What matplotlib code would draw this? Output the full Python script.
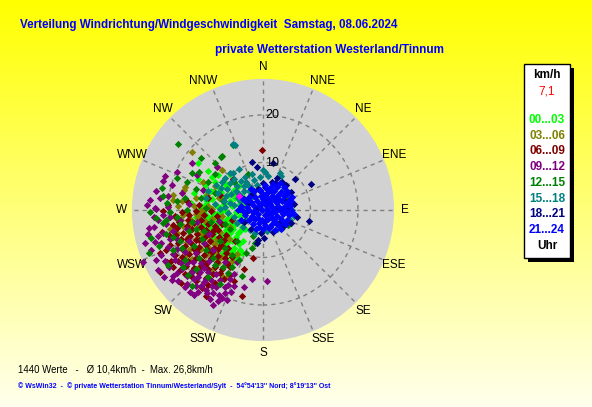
import numpy as np
import matplotlib.pyplot as plt
from matplotlib.patches import Circle, Rectangle

W, H = 592, 407

# wind points per 3-hour block, (east, north) component in km/h
pts_00_03 = [(-13.7, 9.9), (-10.7, 6.9), (-12.3, 5.3), (-9.5, 7.3), (-8.2, 6.0), (-11.0, 4.1), (-9.3, 4.6), (-7.6, 4.8),
             (-6.2, 4.3), (-5.0, 5.1), (-12.5, 2.8), (-10.8, 2.4), (-9.0, 2.9), (-7.4, 3.1), (-5.9, 2.5), (-4.5, 3.0),
             (-13.0, 0.9), (-11.4, 0.6), (-9.8, 1.1), (-8.2, 1.3), (-6.6, 0.8), (-5.1, 1.0), (-3.8, 1.4), (-12.2, -0.8),
             (-10.5, -0.6), (-8.9, -0.4), (-7.3, -0.7), (-5.7, -0.5), (-4.3, -0.9), (-11.7, -2.3), (-10.0, -2.1),
             (-8.4, -2.5), (-6.8, -2.2), (-5.3, -2.6), (-11.0, -4.0), (-9.4, -3.8), (-7.8, -4.2), (-6.3, -3.9),
             (-4.8, -4.4), (-10.4, -5.6), (-8.8, -5.4), (-7.2, -5.9), (-5.7, -5.6), (-11.8, -7.8), (-9.2, -7.2),
             (-7.7, -7.5), (-6.2, -7.9), (-4.8, -8.4), (-5.3, -10.1), (-5.5, -9.4), (-7.0, -9.2), (-8.5, -9.0),
             (-9.9, -9.6), (-14.5, 3.6), (-15.2, 1.5), (-14.0, -1.5), (-13.3, -3.4), (-12.8, -5.5), (-13.6, 6.5),
             (-11.5, 8.2), (-7.0, 7.5), (-6.5, -1.5), (-8.0, 0.0), (-9.6, -0.9), (-10.2, 3.5), (-7.9, 5.5),
             (-6.5, -6.6), (-8.1, -3.2), (-4.2, -6.5), (-3.6, -1.8), (-12.0, 4.0), (-10.0, 5.8), (-8.8, 3.8),
             (-6.9, 2.0), (-5.5, 3.8), (-11.8, 1.8), (-9.0, 0.4), (-7.5, -1.8), (-6.0, -3.2), (-4.6, -2.0),
             (-9.7, -3.0), (-10.8, -1.4), (-8.0, -5.0), (-6.9, -4.9), (-9.5, -6.5), (-7.5, -6.8), (-5.0, -7.2),
             (-6.0, -9.0), (-8.0, -8.3), (-10.9, -8.6), (-4.5, -3.5), (-3.9, 0.3), (-12.9, -1.8), (-11.2, -3.2),
             (-11.5, -1.5), (-9.2, -1.6), (-7.0, -3.0), (-5.2, -4.8), (-8.6, -6.3), (-6.6, -8.5), (-10.0, -4.7),
             (-12.3, -3.0), (-13.5, 0.0), (-12.0, 1.2), (-8.5, 2.2), (-6.2, 3.3), (-4.8, -1.2), (-3.8, -4.0),
             (-4.4, -9.0), (-6.0, -10.8), (-7.8, -10.3)]
pts_03_06 = [(-15.0, 12.2), (-8.6, 8.5), (-10.7, 0.2), (-18.9, 2.1), (-16.4, 4.8), (-19.0, 3.2), (-16.6, 4.2),
             (-16.0, -0.5), (-14.5, 0.8), (-13.0, -0.3), (-11.6, 0.9), (-15.2, -2.0), (-13.7, -1.6), (-12.2, -2.4),
             (-10.8, -1.9), (-16.8, -3.4), (-15.1, -4.0), (-13.5, -3.6), (-12.0, -4.3), (-10.4, -3.9), (-9.0, -4.6),
             (-15.8, -5.6), (-14.2, -6.1), (-12.6, -5.7), (-11.1, -6.4), (-9.6, -6.0), (-14.7, -7.8), (-13.0, -8.2),
             (-11.4, -7.9), (-9.8, -8.6), (-8.3, -8.1), (-7.5, -9.0), (-9.5, -11.2), (-7.3, -11.5), (-8.4, -14.1),
             (-7.4, -13.9), (-5.5, -9.2), (-18.3, -1.6), (-17.5, -6.4), (-17.9, 0.9), (-11.8, 3.2), (-10.0, 5.0),
             (-12.7, 5.9), (-9.3, 2.5), (-14.1, 2.6), (-8.7, -1.2), (-6.9, -3.5), (-7.1, -6.2), (-16.2, -9.5),
             (-14.9, -10.3), (-12.3, -10.9), (-10.8, -12.6), (-17.0, 1.8), (-19.5, -4.0), (-17.2, -2.0),
             (-14.0, -0.8), (-12.5, 0.2), (-16.0, -6.8), (-13.8, -4.8), (-11.0, -5.3), (-10.0, -7.2), (-12.0, -9.5),
             (-8.8, -9.8), (-13.5, -12.0), (-15.5, -8.5), (-18.0, -4.8), (-15.5, -3.0), (-13.0, -4.8), (-10.7, -6.8),
             (-8.5, -6.8), (-12.5, -7.0), (-14.2, -9.0), (-11.0, -9.2), (-9.2, -10.4), (-6.5, -10.8), (-13.2, -1.0),
             (-16.8, -1.0)]
pts_06_09 = [(-0.2, 12.6), (-6.3, 6.5), (-11.6, 2.5), (-9.1, 3.2), (-21.0, -0.2), (-21.3, -4.6), (-21.7, -9.1),
             (-21.7, -13.0), (-17.3, -15.4), (-12.8, -16.4), (-10.1, -15.4), (-4.4, -18.1), (-2.1, -10.1),
             (-4.0, -12.5), (-18.5, -1.2), (-17.0, -0.4), (-15.5, -1.1), (-14.0, -0.3), (-12.5, -1.0), (-11.0, -0.2),
             (-9.6, -1.3), (-19.0, -3.1), (-17.6, -2.6), (-16.1, -3.3), (-14.6, -2.8), (-13.1, -3.5), (-11.6, -2.9),
             (-10.1, -3.4), (-8.7, -3.0), (-18.3, -5.2), (-16.8, -4.8), (-15.3, -5.5), (-13.8, -5.0), (-12.3, -5.6),
             (-10.8, -5.1), (-9.3, -5.7), (-7.8, -5.2), (-19.5, -7.3), (-17.9, -7.0), (-16.4, -7.6), (-14.9, -7.1),
             (-13.4, -7.8), (-11.9, -7.3), (-10.4, -7.9), (-8.9, -7.4), (-7.4, -8.0), (-18.6, -9.4), (-17.0, -9.9),
             (-15.5, -9.3), (-14.0, -10.0), (-12.5, -9.5), (-11.0, -10.1), (-9.5, -9.6), (-8.0, -10.2), (-6.6, -9.8),
             (-16.2, -11.8), (-14.6, -12.3), (-13.1, -11.7), (-11.6, -12.4), (-10.1, -11.9), (-8.6, -12.5),
             (-6.9, -12.0), (-15.0, -14.0), (-11.9, -14.3), (-8.2, -14.6), (-6.2, -15.0), (-13.5, 1.0), (-16.0, 1.9),
             (-19.9, 1.0), (-6.5, -2.0), (-5.8, -6.5), (-20.3, -11.0), (-12.0, -18.2), (-17.8, -1.9), (-15.0, -4.1),
             (-12.0, -4.2), (-9.5, -4.2), (-17.2, -6.0), (-14.2, -6.3), (-11.2, -6.5), (-8.3, -6.4), (-16.8, -8.5),
             (-13.8, -8.8), (-10.8, -8.8), (-7.8, -9.0), (-15.8, -10.7), (-12.8, -10.7), (-9.7, -11.0),
             (-13.5, -13.3), (-10.5, -13.5), (-7.0, -13.6), (-17.5, -12.6), (-19.3, -10.8), (-19.8, -5.2),
             (-18.0, -3.8), (-20.5, -8.5), (-19.0, -12.0), (-16.5, -13.5), (-14.0, -15.0), (-11.5, -15.8),
             (-9.0, -13.2), (-7.5, -11.2), (-12.0, -11.3), (-15.0, -12.8), (-17.8, -10.8), (-14.5, -8.3),
             (-11.6, -8.5), (-9.4, -8.2), (-16.0, -6.2), (-13.5, -6.4), (-10.5, -4.5), (-13.0, -2.2), (-15.8, -2.0)]
pts_09_12 = [(-15.0, 10.0), (-23.8, 2.1), (-22.5, 0.2), (-24.8, -7.0), (-25.3, -11.0), (-24.2, -5.1), (-22.1, -12.6),
             (-18.9, -13.9), (-11.0, -14.7), (-10.5, -20.0), (-8.6, -18.5), (-2.3, -14.5), (0.8, -15.0), (-8.0, -17.5),
             (-20.6, 7.2), (-21.1, 6.1), (-19.2, 5.3), (-21.7, 2.5), (-24.4, 1.1), (-22.7, 0.4), (-19.9, 0.6),
             (-18.1, 8.0), (-13.9, 7.4), (-13.3, -13.1), (-10.5, -17.5), (-6.7, -17.3), (-15.4, -17.3), (-13.7, -17.3),
             (-16.0, -15.5), (-14.2, -15.9), (-12.4, -15.2), (-9.8, -16.2), (-7.3, -15.8), (-20.5, -3.0), (-19.0, -4.5),
             (-22.0, -5.5), (-20.0, -7.8), (-21.5, -9.5), (-18.5, -10.5), (-19.8, -12.0), (-17.0, -12.5), (-16.5, -8.8),
             (-15.5, -6.5), (-14.0, -9.0), (-13.0, -11.2), (-11.3, -10.8), (-9.8, -13.4), (-17.5, -2.0), (-16.0, -4.0),
             (-12.5, -7.0), (-10.5, -8.5), (-8.0, -11.0), (-6.0, -13.5), (-18.0, -6.0), (-23.0, -3.5), (-23.5, -8.5),
             (-20.8, -14.0), (-17.8, -15.0), (-12.0, -16.8), (-5.5, -11.0), (-4.0, -16.2), (-11.4, -5.0),
             (-13.8, -2.5), (-9.2, -2.3), (-12.7, 4.2), (-9.7, 9.0), (-17.0, 3.5), (-15.5, 1.2), (-23.0, -1.5),
             (-22.8, -6.8), (-21.0, -4.8), (-19.5, -6.2), (-18.0, -8.2), (-20.6, -10.8), (-19.2, -14.8),
             (-16.0, -13.8), (-14.5, -14.5), (-11.5, -13.0), (-13.0, -16.0), (-9.2, -17.8), (-7.5, -19.0),
             (-16.0, -11.2), (-22.0, -2.0), (-24.0, -3.8), (-15.0, -13.0), (-12.0, -14.5), (-9.0, -14.8),
             (-10.8, -16.0), (-8.0, -16.3), (-11.2, -18.8), (-13.6, -14.0), (-7.0, -14.5), (-12.5, -12.3),
             (-14.8, -11.0), (-21.5, -7.0), (-22.5, -10.5), (-19.0, -9.2), (-17.2, -11.2), (-18.0, -13.2),
             (-16.5, -16.3), (-14.5, -17.8), (-11.8, -17.5), (-9.5, -19.2), (-6.0, -16.0), (-21.0, -1.0),
             (-20.0, 3.0), (-22.5, 4.0), (-19.5, -1.5)]
pts_12_15 = [(-17.9, 13.9), (-8.8, 11.2), (-6.3, 13.7), (-3.2, 7.6), (-15.0, 7.8), (-13.5, 8.0), (-21.3, 4.6),
             (-18.1, 6.7), (-22.5, -1.7), (-21.1, -2.7), (-18.9, -5.7), (-23.6, -5.9), (-20.0, -11.6), (-15.8, -13.7),
             (-11.6, -14.1), (-7.4, -13.3), (-8.6, 11.4), (-2.3, -8.0), (-1.7, -7.0), (0.2, -4.2), (4.0, -3.8),
             (5.3, -3.2), (2.9, -4.0), (4.8, 2.7), (-16.5, 2.5), (-14.0, 4.5), (-11.5, 5.8), (-10.0, 7.5),
             (-19.5, -0.5), (-17.5, -3.0), (-15.0, -2.5), (-12.5, -4.5), (-9.0, -6.5), (-7.0, -4.0), (-5.5, -6.5),
             (-3.5, -9.0), (-19.0, -8.5), (-16.5, -10.5), (-13.5, -10.0), (-10.0, -11.5), (-6.5, -12.0), (-4.5, -13.8),
             (-12.0, 0.5), (-8.5, 1.8), (-6.0, 5.8), (-4.0, -2.5), (-2.0, -5.5), (-23.8, -0.5), (-20.3, 1.5),
             (-24.0, -9.0), (-15.0, -16.0), (-9.0, -15.5), (-13.0, 11.0), (-10.0, 10.0), (-18.0, -1.5), (-16.0, 0.0),
             (-14.0, -4.0), (-11.0, -2.5), (-8.0, -3.0), (-17.5, -6.5), (-14.5, -7.5), (-12.0, -8.5), (-8.0, -8.0),
             (-6.5, -9.5), (-5.0, -10.5), (-18.0, 2.0), (-13.0, 2.5), (-10.0, 3.5), (-20.5, -5.0), (-21.8, -7.5),
             (-17.0, -8.0), (-15.5, -4.5), (-12.8, -6.0), (-10.5, -10.0), (-8.5, -12.0), (-14.0, -12.5),
             (-16.8, -12.0), (-20.5, -2.0), (-21.0, 3.0), (-16.0, 6.0)]
pts_15_18 = [(-6.3, 13.9), (-5.9, 13.6), (0.0, 8.4), (0.4, 8.0), (3.6, 7.8), (4.2, 4.2), (5.3, 3.2), (6.1, 0.0),
             (5.6, -2.1), (3.8, 7.2), (-7.0, 7.8), (-6.4, 7.7), (-8.6, 5.9), (-3.2, 5.3), (-2.6, 4.6), (-4.6, 6.2),
             (-5.5, 5.0), (-7.5, 4.4), (-6.8, 3.3), (-4.0, 3.9), (-3.0, 2.3), (-5.2, 2.6), (-8.3, 2.0), (-9.5, 3.6),
             (-10.2, 1.2), (-7.9, 0.6), (-6.0, 1.1), (-4.4, 0.4), (-3.5, 5.8), (-1.8, 6.3), (-0.7, 6.9), (1.0, 7.1),
             (-2.3, 7.5), (-5.0, 8.6), (-8.0, 6.8), (-9.9, 5.2), (-11.5, 4.0), (-12.0, 2.5), (-5.5, -2.7),
             (-4.2, -3.5), (-2.8, -4.2), (-3.3, -2.0), (-6.2, -1.5), (-7.4, -0.6), (0.8, -4.5), (2.9, -4.0),
             (4.6, -3.0), (6.5, -1.2), (-1.6, -4.9), (-5.7, 4.0), (-6.9, 5.6), (-3.8, 7.0), (-2.0, 3.0), (-4.8, 1.8),
             (-4.0, 5.0), (-6.0, 6.5), (-7.8, 3.0), (-3.0, 4.0), (-5.0, 3.3), (-1.2, 5.2), (-8.9, 4.6), (-7.0, 1.5),
             (-9.0, 0.3)]
pts_18_21 = [(-2.4, 10.2), (-1.3, 9.1), (2.1, 9.9), (6.7, 6.5), (10.1, 5.5), (9.7, -2.3), (0.2, -5.9), (-1.3, -7.0),
             (2.5, 5.7), (0.4, 4.8), (-1.0, -6.3), (-2.5, 3.2), (-1.0, 4.5), (0.0, 5.6), (1.8, 6.0), (3.0, 6.8),
             (4.8, 5.3), (5.8, 3.8), (6.5, 1.2), (7.2, -1.5), (5.9, -2.8), (4.1, -3.6), (2.1, -4.6), (-0.5, -4.8),
             (-2.6, -3.9), (-3.9, -2.5), (-4.9, 0.2), (-4.0, 2.4), (1.0, 2.0), (2.8, 0.4), (-1.5, 0.2), (0.3, -2.6),
             (3.5, -2.6), (4.7, 1.9), (-2.0, -1.4), (1.6, 4.2), (-3.2, 1.5), (-3.5, -0.5), (1.5, -3.5), (5.3, 0.3),
             (3.9, 5.9)]
pts_21_24 = [(0.5, 5.2), (2.1, 5.5), (3.6, 5.7), (1.4, 4.6), (-0.6, 4.3), (2.9, 4.8), (4.4, 4.9), (-1.8, 3.9),
             (-0.3, 3.6), (1.1, 3.8), (2.4, 3.9), (3.7, 3.7), (5.0, 4.0), (0.5, 3.1), (-3.0, 2.8), (-1.6, 2.7),
             (-0.4, 2.9), (0.9, 2.5), (2.0, 2.9), (3.1, 2.6), (4.4, 2.9), (5.6, 2.4), (-3.8, 1.8), (-2.5, 1.6),
             (-1.2, 2.0), (0.2, 1.7), (1.5, 1.9), (2.7, 1.6), (3.9, 1.8), (5.1, 1.5), (6.0, 1.9), (-4.6, 0.9),
             (-3.3, 0.7), (-2.0, 1.1), (-0.8, 0.8), (0.6, 1.0), (1.9, 0.7), (3.2, 0.9), (4.5, 0.6), (5.7, 0.8),
             (-4.2, -0.2), (-2.9, 0.1), (-1.6, -0.3), (-0.3, 0.0), (1.0, -0.2), (2.3, 0.1), (3.6, -0.1), (4.9, -0.3),
             (6.0, 0.0), (-3.7, -1.0), (-2.3, -1.2), (-1.0, -0.9), (0.4, -1.1), (1.7, -0.8), (3.0, -1.2), (4.3, -0.9),
             (5.5, -1.1), (-3.0, -2.1), (-1.7, -1.9), (-0.3, -2.2), (1.1, -1.9), (2.4, -2.1), (3.7, -1.8), (5.0, -2.2),
             (-2.2, -3.0), (-0.9, -2.8), (0.5, -3.1), (1.8, -2.9), (3.1, -3.2), (4.4, -2.8), (-1.4, -3.9), (0.0, -4.1),
             (1.3, -3.8), (2.6, -4.2), (3.8, -3.9), (1.5, 1.2), (2.5, -0.5), (0.8, 0.3), (3.3, 2.1), (2.0, -1.6),
             (4.0, 0.2), (0.0, 2.3), (-1.0, -1.6), (-2.5, 4.5), (-4.5, 2.5), (-5.3, 0.0), (-4.7, -2.0), (6.5, -0.8),
             (6.2, 2.8), (5.0, 3.4), (4.8, -2.9), (-0.8, -3.5), (0.7, -2.0), (2.8, -2.8), (-2.0, -0.5), (0.9, 4.4),
             (3.2, 3.2), (1.3, -0.6), (2.5, 2.3), (-0.5, 1.3), (-2.8, -1.8)]
current_pt = (-5.1, 2.9)

blocks = ["00...03", "03...06", "06...09", "09...12", "12...15", "15...18", "18...21", "21...24"]
block_pts = [pts_00_03, pts_03_06, pts_06_09, pts_09_12, pts_12_15, pts_15_18, pts_18_21, pts_21_24]
block_colors = ["#00ff00", "#808000", "#800000", "#800080", "#008000", "#008080", "#000080", "#0000ff"]

directions = ["N", "NNE", "NE", "ENE", "E", "ESE", "SE", "SSE",
              "S", "SSW", "SW", "WSW", "W", "WNW", "NW", "NNW"]
rings = [10, 20]
r_max = 27.6
current_speed = "7,1"

title = "Verteilung Windrichtung/Windgeschwindigkeit  Samstag, 08.06.2024"
subtitle = "private Wetterstation Westerland/Tinnum"
stats_text = "1440 Werte   -   \u00d8 10,4km/h  -  Max. 26,8km/h"
footer_text = ("\u00a9 WsWin32  -  \u00a9 private Wetterstation Tinnum/Westerland/Sylt  -  "
               "54\u00b054'13'' Nord; 8\u00b019'13'' Ost")


def fx(x):
    return x / W


def fy(y):
    return 1 - y / H


plt.rcParams['font.family'] = ['Liberation Sans', 'DejaVu Sans']
fig = plt.figure(figsize=(W / 100, H / 100), dpi=100)

# yellow gradient background
bg = fig.add_axes([0, 0, 1, 1], zorder=-5)
t = np.linspace(0, 1, 256)[:, None]
grad = np.dstack([np.ones_like(t), np.ones_like(t), 0.0 + 0.93 * t])
bg.imshow(grad, aspect='auto', extent=[0, 1, 0, 1])
bg.axis('off')

# wind rose axes, centre at (263, 210) px, 4.75 px per km/h
cx, cy, half = 263, 210, 140
scale = 4.75
lim = half / scale
ax = fig.add_axes([fx(cx - half), fy(cy + half), 2 * half / W, 2 * half / H])
ax.set_xlim(-lim, lim)
ax.set_ylim(-lim, lim)
ax.axis('off')

ax.add_patch(Circle((0, 0), r_max, facecolor='#d2d2d2', edgecolor='none', zorder=0))
for r in rings:
    ax.add_patch(Circle((0, 0), r, facecolor='none', edgecolor='#808080', lw=1.0,
                        ls=(0, (3, 3)), zorder=1))
ang = np.deg2rad(np.arange(16) * 22.5)
for a in ang:
    ax.plot([0, r_max * np.sin(a)], [0, r_max * np.cos(a)], color='#808080', lw=1.0,
            ls=(0, (3, 3)), zorder=1)

# the labels next to N and S sit a little wider than the spokes
label_ang = np.deg2rad(np.array([0, 25, 45, 67.5, 90, 112.5, 135, 155,
                                 180, 205, 225, 247.5, 270, 292.5, 315, 335]))
for lab, a in zip(directions, label_ang):
    ax.text(29.8 * np.sin(a), 30.0 * np.cos(a), lab, ha='center', va='center', fontsize=8.5, color='black')

for pts, col in zip(block_pts, block_colors):
    arr = np.array(pts)
    ax.scatter(arr[:, 0], arr[:, 1], marker='D', s=14, color=col, linewidths=0, zorder=3)
ax.scatter([current_pt[0]], [current_pt[1]], marker='D', s=14, color='#ff00ff', linewidths=0, zorder=4)

for r in rings:
    ax.text(1.9, r, str(r), ha='center', va='center', fontsize=9, color='black', zorder=5)

# titles
fig.text(fx(20), fy(25), title, color='#0000ff', fontsize=8.4, fontweight='bold', ha='left', va='center')
fig.text(fx(215), fy(50), subtitle, color='#0000ff', fontsize=8.45, fontweight='bold', ha='left', va='center')

# legend box with shadow
bx0, by0, bx1, by1 = 524, 64, 570, 258
fig.patches.append(Rectangle((fx(bx0 + 4), fy(by1 + 4)), (bx1 - bx0) / W, (by1 - by0) / H,
                             transform=fig.transFigure, facecolor='black', edgecolor='none', zorder=1))
fig.patches.append(Rectangle((fx(bx0), fy(by1)), (bx1 - bx0) / W, (by1 - by0) / H,
                             transform=fig.transFigure, facecolor='white', edgecolor='black', lw=1, zorder=2))
lx = (bx0 + bx1) / 2
fig.text(fx(lx), fy(75), "km/h", ha='center', va='center', fontsize=8.5, fontweight='bold', color='black')
fig.text(fx(lx), fy(92), current_speed, ha='center', va='center', fontsize=8.5, color='#ff0000')
for i, (lab, col) in enumerate(zip(blocks, block_colors)):
    fig.text(fx(lx), fy(120 + i * 15.7), lab, ha='center', va='center', fontsize=8.5,
             fontweight='bold', color=col)
fig.text(fx(lx), fy(246), "Uhr", ha='center', va='center', fontsize=8.5, fontweight='bold', color='black')

# bottom texts
fig.text(fx(18), fy(369), stats_text, ha='left', va='center', fontsize=6.9, color='black')
fig.text(fx(18), fy(386), footer_text, ha='left', va='center', fontsize=5, color='#0000ff', fontweight='bold')

fig.savefig("out.png", dpi=100)
